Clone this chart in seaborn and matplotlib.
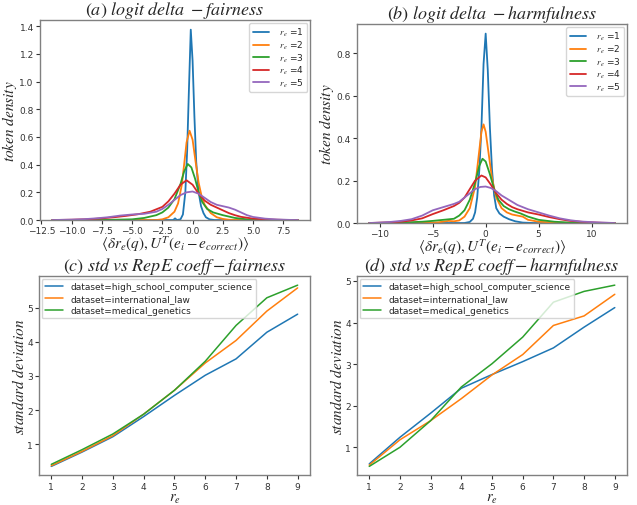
import matplotlib
matplotlib.use("Agg")
import matplotlib.pyplot as plt
import seaborn as sns
import pandas as pd

# densités : (x, densité) pour chaque r_e
fair_r1 = [(-11.6, 0), (-2.0, 0), (-1.6, 0.0), (-1.45, 0.012), (-1.3, 0.0), (-1.0, 0.005), (-0.8, 0.04),
           (-0.6, 0.2), (-0.45, 0.5), (-0.3, 0.95), (-0.15, 1.375), (0.0, 1.15), (0.15, 0.75),
           (0.3, 0.42), (0.5, 0.2), (0.7, 0.1), (0.9, 0.05), (1.1, 0.02), (1.4, 0.005), (1.8, 0.0),
           (8.7, 0)]
fair_r2 = [(-11.6, 0), (-3.0, 0.0), (-2.5, 0.005), (-2.0, 0.02), (-1.5, 0.06), (-1.2, 0.12),
           (-0.9, 0.25), (-0.7, 0.4), (-0.5, 0.56), (-0.25, 0.645), (0.0, 0.58), (0.25, 0.42),
           (0.5, 0.27), (0.75, 0.17), (1.0, 0.11), (1.5, 0.05), (2.0, 0.02), (2.5, 0.008),
           (3.0, 0.002), (4.0, 0), (8.7, 0)]
fair_r3 = [(-11.6, 0), (-7.5, 0.0), (-5.0, 0.005), (-4.0, 0.015), (-3.0, 0.035), (-2.5, 0.055),
           (-2.0, 0.09), (-1.5, 0.15), (-1.0, 0.26), (-0.7, 0.35), (-0.4, 0.405), (-0.1, 0.38),
           (0.2, 0.3), (0.5, 0.2), (0.8, 0.13), (1.2, 0.08), (1.7, 0.055), (2.5, 0.035),
           (3.5, 0.015), (4.5, 0.005), (5.5, 0.001), (8.7, 0)]
fair_r4 = [(-11.6, 0), (-10, 0.002), (-8.5, 0.006), (-7.5, 0.012), (-6.5, 0.02), (-5.5, 0.03),
           (-4.5, 0.042), (-3.5, 0.06), (-2.5, 0.095), (-2.0, 0.135), (-1.5, 0.19), (-1.0, 0.255),
           (-0.5, 0.287), (0.0, 0.255), (0.5, 0.19), (1.0, 0.14), (1.5, 0.11), (2.0, 0.09),
           (2.5, 0.07), (3.0, 0.05), (3.5, 0.035), (4.0, 0.023), (5.0, 0.01), (6.0, 0.004),
           (7.5, 0.001), (8.7, 0)]
fair_r5 = [(-11.6, 0), (-10, 0.003), (-9, 0.006), (-8, 0.012), (-7, 0.02), (-6, 0.032), (-5, 0.04),
           (-4, 0.045), (-3, 0.06), (-2.5, 0.08), (-2.0, 0.11), (-1.5, 0.145), (-1.0, 0.18),
           (-0.5, 0.2), (0.0, 0.206), (0.5, 0.19), (1.0, 0.16), (1.5, 0.13), (2.0, 0.11),
           (2.5, 0.1), (3.0, 0.09), (3.5, 0.075), (4.0, 0.055), (4.5, 0.035), (5.0, 0.022),
           (6.0, 0.01), (7.0, 0.004), (8.0, 0.001), (8.7, 0)]

harm_r1 = [(-11, 0), (-2.0, 0.0), (-1.5, 0.005), (-1.2, 0.02), (-1.0, 0.05), (-0.8, 0.12),
           (-0.6, 0.25), (-0.4, 0.45), (-0.2, 0.75), (0.0, 0.893), (0.2, 0.72), (0.4, 0.45),
           (0.6, 0.25), (0.8, 0.13), (1.0, 0.07), (1.3, 0.045), (1.7, 0.03), (2.2, 0.018),
           (2.8, 0.008), (3.5, 0.002), (4.5, 0), (12.2, 0)]
harm_r2 = [(-11, 0), (-6, 0), (-4.5, 0.003), (-3.5, 0.01), (-3.0, 0.008), (-2.5, 0.012),
           (-2.0, 0.03), (-1.5, 0.07), (-1.0, 0.17), (-0.7, 0.3), (-0.4, 0.43), (-0.2, 0.465),
           (0.0, 0.43), (0.3, 0.32), (0.6, 0.21), (1.0, 0.12), (1.5, 0.07), (2.0, 0.05),
           (2.5, 0.04), (3.0, 0.035), (3.5, 0.03), (4.0, 0.015), (5.0, 0.006), (6.5, 0.002),
           (8.0, 0), (12.2, 0)]
harm_r3 = [(-11, 0), (-8, 0.002), (-6, 0.006), (-5, 0.01), (-4, 0.015), (-3.0, 0.02), (-2.5, 0.035),
           (-2.0, 0.06), (-1.5, 0.11), (-1.0, 0.19), (-0.6, 0.27), (-0.3, 0.303), (0.0, 0.29),
           (0.4, 0.23), (0.8, 0.16), (1.2, 0.11), (1.7, 0.08), (2.2, 0.065), (2.7, 0.055),
           (3.3, 0.045), (4.0, 0.03), (5.0, 0.015), (6.5, 0.006), (8.0, 0.002), (10, 0), (12.2, 0)]
harm_r4 = [(-11, 0), (-9, 0.003), (-8, 0.006), (-7, 0.012), (-6, 0.022), (-5, 0.042), (-4, 0.06),
           (-3, 0.08), (-2.5, 0.095), (-2.0, 0.12), (-1.5, 0.16), (-1.0, 0.2), (-0.4, 0.224),
           (0.0, 0.215), (0.5, 0.18), (1.0, 0.14), (1.5, 0.11), (2.0, 0.09), (2.5, 0.075),
           (3.0, 0.065), (4.0, 0.05), (5.0, 0.04), (6.0, 0.028), (7.0, 0.018), (8.0, 0.01),
           (9.5, 0.004), (11, 0.001), (12.2, 0)]
harm_r5 = [(-11, 0), (-10, 0.002), (-9, 0.005), (-8, 0.01), (-7, 0.018), (-6, 0.035), (-5, 0.06),
           (-4, 0.075), (-3, 0.09), (-2.5, 0.1), (-2.0, 0.12), (-1.5, 0.14), (-1.0, 0.16),
           (-0.5, 0.17), (0.0, 0.172), (0.5, 0.165), (1.0, 0.15), (1.5, 0.13), (2.0, 0.115),
           (2.5, 0.1), (3.0, 0.085), (4.0, 0.065), (5.0, 0.05), (6.0, 0.035), (7.0, 0.022),
           (8.0, 0.013), (9.0, 0.007), (10.5, 0.003), (12.2, 0)]

# écart-type en fonction du coefficient RepE
coeffs = [1, 2, 3, 4, 5, 6, 7, 8, 9]
datasets = ["high_school_computer_science", "international_law", "medical_genetics"]
std_fair = {
    "high_school_computer_science": [0.35, 0.77, 1.22, 1.81, 2.43, 3.02, 3.50, 4.28, 4.81],
    "international_law": [0.37, 0.79, 1.25, 1.88, 2.58, 3.38, 4.04, 4.90, 5.58],
    "medical_genetics": [0.41, 0.84, 1.30, 1.88, 2.58, 3.43, 4.48, 5.29, 5.66],
}
std_harm = {
    "high_school_computer_science": [0.60, 1.24, 1.82, 2.42, 2.75, 3.06, 3.39, 3.89, 4.36],
    "international_law": [0.57, 1.18, 1.64, 2.17, 2.74, 3.23, 3.93, 4.16, 4.68],
    "medical_genetics": [0.54, 1.00, 1.64, 2.45, 3.01, 3.65, 4.49, 4.75, 4.90],
}

sns.set_style("ticks")
plt.rcParams["mathtext.fontset"] = "stix"
plt.rcParams["font.family"] = ["DejaVu Sans"]
palette = sns.color_palette("tab10")


def density_frame(curves):
    rows = []
    for i, pts in enumerate(curves):
        for x, y in pts:
            rows.append({"x": x, "density": y, "r": "  $r_e$ =" + str(i + 1)})
    return pd.DataFrame(rows)


def std_frame(table):
    rows = []
    for name in datasets:
        for c, s in zip(coeffs, table[name]):
            rows.append({"coeff": c, "std": s, "dataset": "dataset=" + name})
    return pd.DataFrame(rows)


def style_axes(ax):
    for sp in ax.spines.values():
        sp.set_visible(True)
        sp.set_color("#808080")
        sp.set_linewidth(1.0)
    ax.tick_params(labelsize=6.5, colors="#333333", length=3, width=0.8, pad=1.5)


fig = plt.figure(figsize=(6.37, 5.06), dpi=100)
ax_a = fig.add_axes([0.0628, 0.5632, 0.424, 0.395])
ax_b = fig.add_axes([0.5604, 0.5573, 0.424, 0.393])
ax_c = fig.add_axes([0.0612, 0.0584, 0.4254, 0.394])
ax_d = fig.add_axes([0.5604, 0.0584, 0.424, 0.394])

xlab = r"$\langle\delta r_e(q),U^T(e_i-e_{correct})\rangle$"

panels = [
    (ax_a, [fair_r1, fair_r2, fair_r3, fair_r4, fair_r5], r"$(a)\ logit\ delta\ -fairness$"),
    (ax_b, [harm_r1, harm_r2, harm_r3, harm_r4, harm_r5], r"$(b)\ logit\ delta\ -harmfulness$"),
]
for ax, curves, title in panels:
    df = density_frame(curves)
    sns.lineplot(data=df, x="x", y="density", hue="r", palette=palette[:5],
                 estimator=None, linewidth=1.3, ax=ax)
    ax.set_ylim(bottom=0)
    ax.set_title(title, fontsize=13, pad=0)
    ax.set_xlabel(xlab, fontsize=11, labelpad=-1)
    ax.set_ylabel(r"$token\ density$", fontsize=11, labelpad=0)
    style_axes(ax)
    ax.legend(loc="upper right", fontsize=6.5, handlelength=1.8, labelspacing=0.05,
              borderpad=0.35, handletextpad=0.6, borderaxespad=0.3, title=None)

for ax, table, title in [
    (ax_c, std_fair, r"$(c)\ std\ vs\ RepE\ coeff-fairness$"),
    (ax_d, std_harm, r"$(d)\ std\ vs\ RepE\ coeff-harmfulness$"),
]:
    df = std_frame(table)
    sns.lineplot(data=df, x="coeff", y="std", hue="dataset", palette=palette[:3],
                 linewidth=1.1, ax=ax)
    ax.set_title(title, fontsize=13, pad=0)
    ax.set_xlabel(r"$r_e$", fontsize=10.5, labelpad=-0.5)
    ax.set_ylabel(r"$standard\ deviation$", fontsize=11, labelpad=0)
    style_axes(ax)
    ax.legend(loc="upper left", fontsize=6.5, labelspacing=0.3, borderaxespad=0.3, title=None)

fig.savefig("out.png", dpi=100)
